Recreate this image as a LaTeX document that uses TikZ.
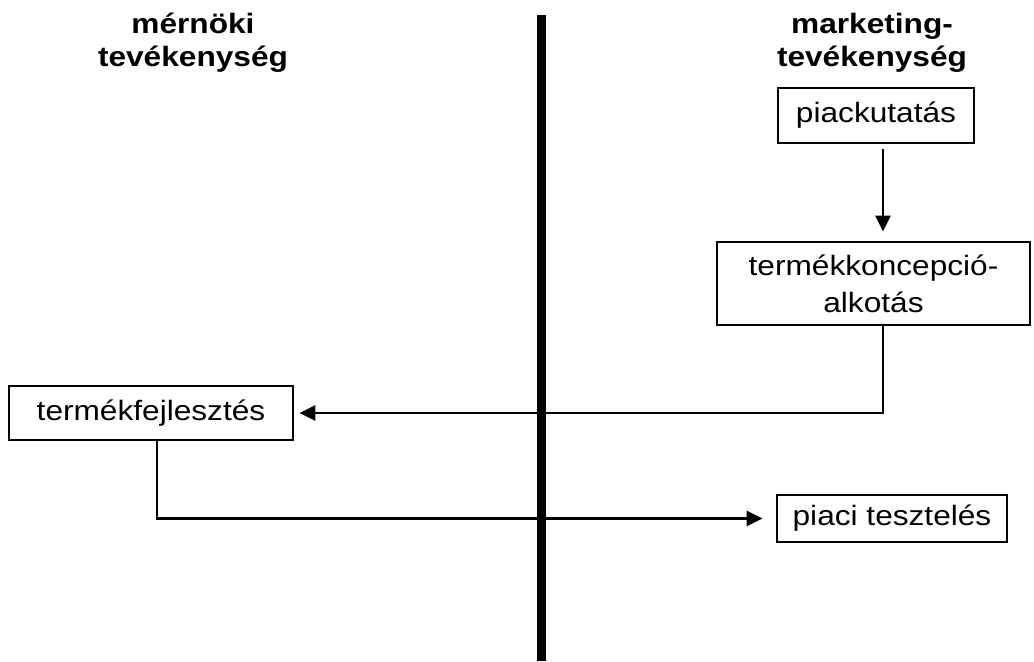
\documentclass[tikz,border=0pt]{standalone}
\usepackage{fontspec}
\setmainfont{Liberation Sans}[FakeStretch=1.13]
\usetikzlibrary{arrows.meta}
\begin{document}
\begin{tikzpicture}[x=0.5pt,y=-0.5pt,line join=miter,>={Triangle[length=8pt,width=7.5pt]},
    box/.style={draw,line width=1.4pt,align=center,inner sep=0pt,font=\fontsize{14}{18.5}\selectfont},
    head/.style={align=center,inner sep=0pt,anchor=north,font=\fontsize{14}{16.5}\selectfont\bfseries},
    arr/.style={->,line width=1.4pt}]
    \useasboundingbox (0,0) rectangle (1034,661);
    % oszlopfejek
    \node[head] (mern) at (193,13) {mérnöki\\tevékenység};
    \node[head] (mark) at (872,13) {marketing-\\tevékenység};
    % elvalaszto vonal
    \coordinate (vtop) at (541,15);
    \coordinate (vbot) at (541,661);
    \draw[line width=4.5pt] (vtop) -- (vbot);
    % dobozok
    \node[box,minimum width=98pt,minimum height=27.5pt] (piac) at (876,115.5) {piackutatás};
    \node[box,minimum width=156.5pt,minimum height=41.5pt] (konc) at (873.5,283.5) {termékkoncepció-\\alkotás};
    \node[box,minimum width=142pt,minimum height=27pt] (fejl) at (151,413) {termékfejlesztés};
    \node[box,minimum width=115pt,minimum height=23.5pt] (teszt) at (892,518.5) {piaci tesztelés};
    % nyilak
    \draw[arr,shorten <=2.5pt,shorten >=4.5pt] ([xshift=3.5pt]piac.south) -- ([xshift=4.75pt]konc.north);
    \draw[arr,shorten >=2.5pt] ([xshift=4.75pt]konc.south) |- (fejl.east);
    \draw[arr,shorten >=6.5pt] ([xshift=3pt]fejl.south) |- (teszt.west);
\end{tikzpicture}
\end{document}
